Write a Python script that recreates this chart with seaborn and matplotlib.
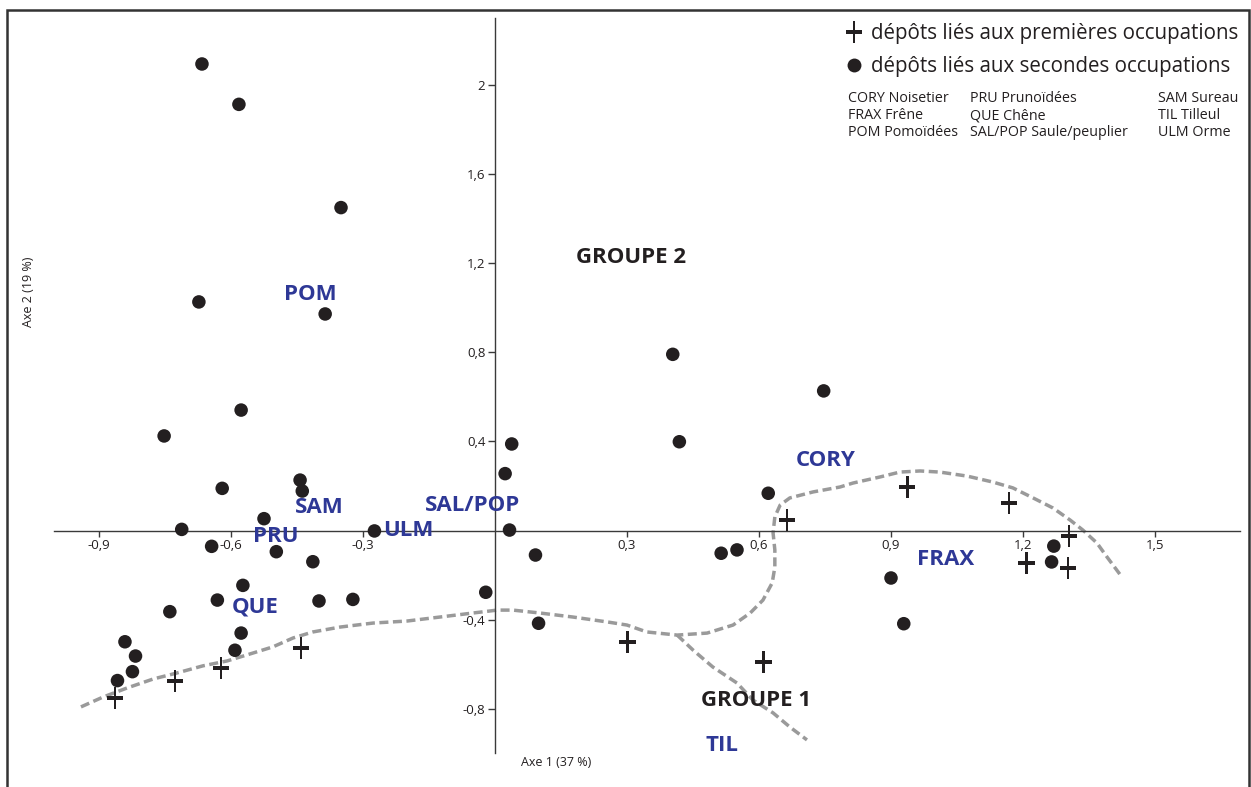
import numpy as np
import matplotlib
matplotlib.use("Agg")
import matplotlib.pyplot as plt
from matplotlib.path import Path
from matplotlib.lines import Line2D
from matplotlib.patches import Rectangle
import seaborn as sns

# ---------------- data ----------------
# deposits linked to first occupations (crosses)
first_x = [-0.864, -0.727, -0.623, -0.441, 0.301, 0.610, 0.664, 0.937, 1.168, 1.305, 1.208, 1.302]
first_y = [-0.752, -0.675, -0.618, -0.526, -0.499, -0.588, 0.047, 0.196, 0.125, -0.025, -0.147, -0.167]

# deposits linked to second occupations (dots)
second_x = [-0.666, -0.582, -0.350, -0.673, -0.386, -0.577, -0.752, -0.620, -0.443, -0.438,
            -0.525, -0.712, -0.644, -0.497, -0.414, -0.274, -0.573, -0.631, -0.400, -0.323,
            -0.739, -0.021, -0.577, -0.591, -0.841, -0.817, -0.824, -0.858,
            0.038, 0.023, 0.033, 0.092, 0.099, 0.404, 0.419, 0.747, 0.621, 0.514, 0.550,
            0.900, 0.929, 1.270, 1.265]
second_y = [2.092, 1.911, 1.448, 1.025, 0.971, 0.540, 0.424, 0.189, 0.226, 0.177,
            0.053, 0.005, -0.071, -0.095, -0.140, -0.002, -0.246, -0.312, -0.316, -0.309,
            -0.364, -0.277, -0.460, -0.537, -0.499, -0.563, -0.633, -0.673,
            0.388, 0.255, 0.002, -0.110, -0.416, 0.790, 0.398, 0.626, 0.167, -0.102, -0.087,
            -0.213, -0.418, -0.070, -0.141]

# taxa (variables) labels
taxa_labels = ["POM", "SAM", "PRU", "SAL/POP", "ULM", "QUE", "CORY", "FRAX", "TIL"]
taxa_x = [-0.420, -0.400, -0.498, -0.052, -0.198, -0.545, 0.752, 1.025, 0.516]
taxa_y = [1.060, 0.104, -0.029, 0.110, 0.002, -0.341, 0.312, -0.132, -0.966]

# group labels
group_labels = ["GROUPE 2", "GROUPE 1"]
group_x = [0.309, 0.593]
group_y = [1.222, -0.764]

# dashed boundary (main line) and its branch towards TIL
boundary_x = [-0.941, -0.891, -0.836, -0.777, -0.723, -0.664, -0.609, -0.564, -0.505, -0.459,
              -0.414, -0.352, -0.277, -0.200, -0.125, -0.050, 0.005, 0.041, 0.102, 0.177,
              0.255, 0.300, 0.345, 0.414, 0.482, 0.541, 0.580, 0.609, 0.630, 0.636,
              0.636, 0.632, 0.636, 0.648, 0.670, 0.723, 0.784, 0.814, 0.875, 0.920,
              0.966, 1.011, 1.073, 1.132, 1.177, 1.223, 1.268, 1.307, 1.336, 1.368,
              1.391, 1.425]
boundary_y = [-0.791, -0.747, -0.706, -0.666, -0.639, -0.607, -0.585, -0.558, -0.522, -0.482,
              -0.455, -0.433, -0.415, -0.406, -0.388, -0.370, -0.357, -0.357, -0.370, -0.388,
              -0.410, -0.424, -0.455, -0.469, -0.460, -0.424, -0.370, -0.312, -0.235, -0.164,
              -0.087, -0.011, 0.061, 0.114, 0.146, 0.173, 0.195, 0.213, 0.240, 0.262,
              0.267, 0.262, 0.244, 0.217, 0.191, 0.146, 0.101, 0.047, 0.002, -0.056,
              -0.119, -0.209]
branch_x = [0.414, 0.450, 0.495, 0.550, 0.586, 0.632, 0.670, 0.709]
branch_y = [-0.469, -0.536, -0.612, -0.684, -0.760, -0.818, -0.881, -0.939]

x_ticks = [-0.9, -0.6, -0.3, 0.3, 0.6, 0.9, 1.2, 1.5]
x_tick_labels = ["-0,9", "-0,6", "-0,3", "0,3", "0,6", "0,9", "1,2", "1,5"]
y_ticks = [-0.8, -0.4, 0.4, 0.8, 1.2, 1.6, 2.0]
y_tick_labels = ["-0,8", "-0,4", "0,4", "0,8", "1,2", "1,6", "2"]

x_label = "Axe 1 (37 %)"
y_label = "Axe 2 (19 %)"
legend_labels = ["dépôts liés aux premières occupations", "dépôts liés aux secondes occupations"]
key_col1 = ["CORY Noisetier", "FRAX Frêne", "POM Pomoïdées"]
key_col2 = ["PRU Prunoïdées", "QUE Chêne", "SAL/POP Saule/peuplier"]
key_col3 = ["SAM Sureau", "TIL Tilleul", "ULM Orme"]

# ---------------- style ----------------
sns.set_theme(style="white")
plt.rcParams["font.family"] = ["Open Sans", "DejaVu Sans"]

INK = "#231f20"
BLUE = "#2e3896"
GREY = "#9a9a9a"
W, H = 1251, 787

fig = plt.figure(figsize=(W / 100, H / 100), dpi=100)
ax = fig.add_axes([0, 0, 1, 1])
ax.set_xlim(-495 / 440, (W - 495) / 440)
ax.set_ylim((530.5 - H) / 223, 530.5 / 223)

# cross marker (thick horizontal bar, thinner vertical bar)
cv = [(-0.113, 1), (0.113, 1), (0.113, 0.174), (0.74, 0.174), (0.74, -0.174),
      (0.113, -0.174), (0.113, -1), (-0.113, -1), (-0.113, -0.174), (-0.74, -0.174),
      (-0.74, 0.174), (-0.113, 0.174), (-0.113, 1)]
cross = Path(cv, [Path.MOVETO] + [Path.LINETO] * 11 + [Path.CLOSEPOLY])

# boundaries
ax.plot(boundary_x, boundary_y, color=GREY, lw=2.5, ls=(0, (2.6, 1.3)), zorder=1)
ax.plot(branch_x, branch_y, color=GREY, lw=2.5, ls=(0, (2.6, 1.3)), zorder=1)

sns.scatterplot(x=second_x, y=second_y, ax=ax, color=INK, s=95, linewidth=0,
                edgecolor="none", marker="o", zorder=3, legend=False)
sns.scatterplot(x=first_x, y=first_y, ax=ax, color=INK, s=250, linewidth=0,
                edgecolor="none", marker=cross, zorder=3, legend=False)

for lab, x, y in zip(taxa_labels, taxa_x, taxa_y):
    ax.text(x, y, lab, ha="center", va="center", fontsize=16, fontweight="bold", color=BLUE, zorder=4)
for lab, x, y in zip(group_labels, group_x, group_y):
    ax.text(x, y, lab, ha="center", va="center", fontsize=16, fontweight="bold", color=INK, zorder=4)

# axes through origin
for s in ["top", "right"]:
    ax.spines[s].set_visible(False)
ax.spines["left"].set_position(("data", 0))
ax.spines["bottom"].set_position(("data", 0))
ax.spines["left"].set_bounds(-0.998, 2.298)
ax.spines["bottom"].set_bounds(-1.002, 1.693)
for s in ["left", "bottom"]:
    ax.spines[s].set_color("#3a3a3a")
    ax.spines[s].set_linewidth(1.0)
ax.set_xticks(x_ticks, labels=x_tick_labels)
ax.set_yticks(y_ticks, labels=y_tick_labels)
ax.tick_params(axis="x", direction="out", length=4, width=1, color="#3a3a3a",
               labelsize=9.5, labelcolor=INK, pad=2, bottom=True)
ax.tick_params(axis="y", direction="out", length=5, width=1, color="#3a3a3a",
               labelsize=9.5, labelcolor=INK, pad=2, left=True)
ax.grid(False)

fig.text(556 / W, 1 - 762 / H, x_label, ha="center", va="center", fontsize=9, color=INK)
fig.text(28 / W, 1 - 292 / H, y_label, ha="center", va="center", fontsize=9, color=INK, rotation=90)

# outer frame
fig.add_artist(Rectangle((6.5 / W, -0.05), (1249 - 6.5) / W, (1 - 10 / H) + 0.05,
                         transform=fig.transFigure, fill=False, lw=1.8, ec="#333333"))

# legend
handles = [Line2D([], [], ls="none", marker=cross, color=INK, markersize=16, markeredgewidth=0),
           Line2D([], [], ls="none", marker="o", color=INK, markersize=10, markeredgewidth=0)]
fig.legend(handles, legend_labels, loc="upper right", bbox_to_anchor=(1238 / W, 1 - 23 / H),
           frameon=False, fontsize=14.8, handlelength=0.8, handletextpad=0.4,
           labelspacing=0.6, borderpad=0, borderaxespad=0, labelcolor=INK)

# abbreviation key
rows_y = [98, 115.5, 133]
for col, xpx in zip([key_col1, key_col2, key_col3], [848, 970, 1158]):
    for txt, ypx in zip(col, rows_y):
        fig.text(xpx / W, 1 - ypx / H, txt, ha="left", va="center", fontsize=10.3, color=INK)

fig.savefig("out.png", dpi=100)
